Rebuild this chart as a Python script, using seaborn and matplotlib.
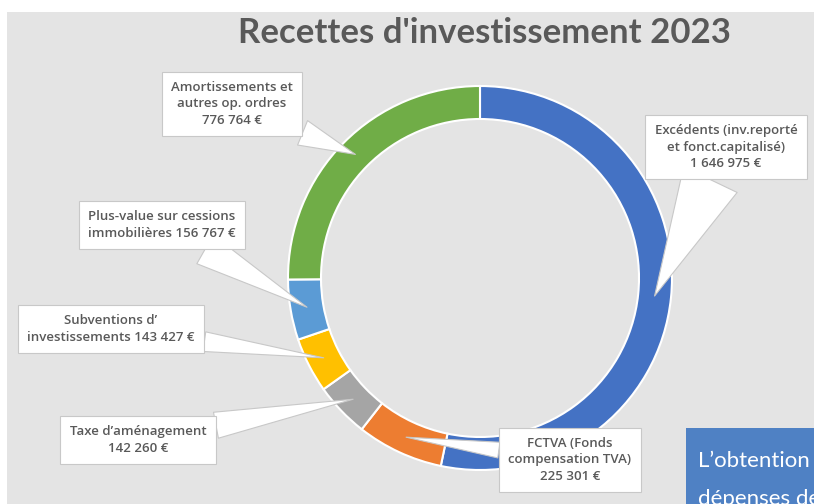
#recettes d'investissement 2023
#donut chart with callout boxes
import matplotlib
matplotlib.use("Agg")
import matplotlib.pyplot as plt
import seaborn as sns
import numpy as np
from matplotlib.patches import Rectangle


#data
names = [
    "Excédents (inv.reporté\net fonct.capitalisé)",
    "FCTVA (Fonds\ncompensation TVA)",
    "Taxe d’aménagement",
    "Subventions d’\ninvestissements",
    "Plus-value sur cessions\nimmobilières",
    "Amortissements et\nautres op. ordres",
]
values = [1646975, 225301, 142260, 143427, 156767, 776764]
#value goes on a new line or at the end of the last line
value_newline = [True, True, True, False, False, True]
colors = ["#4472C4", "#ED7D31", "#A5A5A5", "#FFC000", "#5B9BD5", "#70AD47"]

#where the label boxes sit (pixel centers, y from top) + callout widths
box_pos = [(726, 147), (570, 460), (138, 440), (111, 329), (162, 225), (232, 104)]
tails = [4.5, 1.2, 2.0, 1.5, 2.5, 2.0]

sns.set_style("white")
plt.rcParams['font.family'] = ['Open Sans', 'DejaVu Sans']

W, H = 814, 504
fig = plt.figure(figsize=(W / 100, H / 100), dpi=100)
fig.patch.set_facecolor("white")
#gray slide background
fig.patches.append(Rectangle((7 / W, 0), 1, (H - 12) / H, transform=fig.transFigure,
                             fc="#e4e4e4", ec="none", zorder=-10))

ax = fig.add_axes([0, 0, 1, 1])
ax.set_facecolor("none")

cx, cy = 480, H - 278
R = 192
ring = 33
pal = sns.color_palette(colors)
wedges, _ = ax.pie(values, colors=pal, startangle=90, counterclock=False,
                   radius=R, center=(cx, cy),
                   wedgeprops=dict(width=ring, edgecolor="white", linewidth=1.5))
ax.set_xlim(0, W)
ax.set_ylim(0, H)
ax.set_aspect("equal")
ax.axis("off")


def fmt(v):
    return f"{v:,}".replace(",", " ") + " €"


for w, name, v, nl, (tx, ty), tw in zip(wedges, names, values, value_newline, box_pos, tails):
    a = np.deg2rad((w.theta1 + w.theta2) / 2)
    tip = (cx + (R - ring / 2) * np.cos(a), cy + (R - ring / 2) * np.sin(a))
    label = name + ("\n" if nl else " ") + fmt(v)
    ax.annotate(label, xy=tip, xytext=(tx, H - ty), ha="center", va="center",
                fontsize=9.5, color="#595959", fontweight="semibold", linespacing=1.35,
                bbox=dict(boxstyle="square,pad=0.7", fc="white", ec="#c8c8c8", lw=0.8),
                arrowprops=dict(arrowstyle=f"wedge,tail_width={tw}", fc="white",
                                ec="#c8c8c8", lw=0.8, shrinkA=0, shrinkB=0,
                                connectionstyle="arc3"),
                zorder=5)

#title
fig.text(484 / W, 1 - 33 / H, "Recettes d'investissement 2023", ha="center", va="center",
         fontsize=25, color="#595959", fontweight="bold", family=["Lato", "DejaVu Sans"])

#blue text box cut off at bottom right
bax = fig.add_axes([686 / W, 0, (W - 686) / W, (H - 428) / H])
bax.set_facecolor("#4f81c4")
bax.set_xticks([])
bax.set_yticks([])
for s in bax.spines.values():
    s.set_visible(False)
bax.text(0.09, 0.57, "L’obtention", transform=bax.transAxes, color="white",
         fontsize=16, va="center", ha="left", clip_on=True, family=["Lato", "DejaVu Sans"])
bax.text(0.09, 0.06, "dépenses de", transform=bax.transAxes, color="white",
         fontsize=16, va="center", ha="left", clip_on=True, family=["Lato", "DejaVu Sans"])

fig.savefig("out.png", dpi=100)
